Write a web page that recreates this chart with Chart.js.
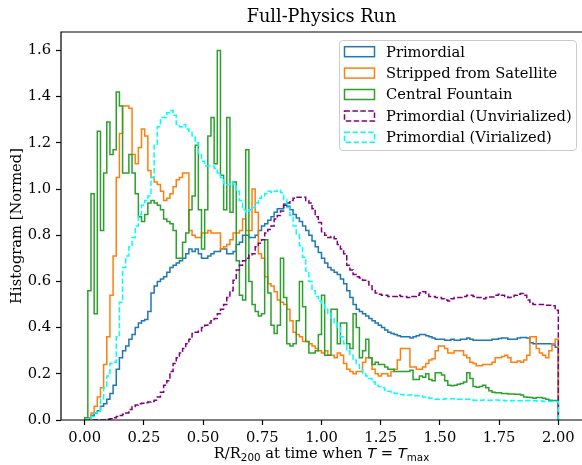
<!DOCTYPE html>
<html>
<head>
<meta charset="utf-8">
<script src="https://cdn.jsdelivr.net/npm/chart.js@4.4.0/dist/chart.umd.min.js"></script>
<style>
  html, body { margin: 0; padding: 0; background: #fff; overflow: hidden; }
  #wrap { width: 582px; height: 465px; }
</style>
</head>
<body>
<div id="wrap"><canvas id="histChart" width="582" height="465"></canvas></div>
<script>
// histogram bins: 150 bins between 0 and 2 (R/R200)
var binLo = 0, binHi = 2, nBins = 150;

var seriesLabels = ["Primordial", "Stripped from Satellite", "Central Fountain",
                    "Primordial (Unvirialized)", "Primordial (Virialized)"];

var xTicks = [0, 0.25, 0.5, 0.75, 1.0, 1.25, 1.5, 1.75, 2.0];
var yTicks = [0, 0.2, 0.4, 0.6, 0.8, 1.0, 1.2, 1.4, 1.6];

// bin heights, one per bin
var primordial = [
  0.0, 0.01, 0.02, 0.03, 0.04, 0.06, 0.07, 0.09, 0.115, 0.15,
  0.22, 0.27, 0.30, 0.32, 0.35, 0.37, 0.40, 0.42, 0.43, 0.435,
  0.47, 0.55, 0.58, 0.60, 0.61,
  0.62, 0.64, 0.66, 0.67, 0.68, 0.69, 0.70, 0.72, 0.74, 0.73,
  0.74, 0.72, 0.70, 0.70, 0.71, 0.72, 0.73, 0.73, 0.74, 0.74,
  0.72, 0.72, 0.73, 0.76, 0.77, 0.80, 0.80, 0.79, 0.79, 0.80,
  0.82, 0.84, 0.85, 0.865,
  0.88, 0.90, 0.915, 0.915, 0.935, 0.925, 0.91, 0.89, 0.875, 0.86,
  0.84, 0.82, 0.80, 0.775, 0.75, 0.725, 0.70,
  0.68, 0.66, 0.65, 0.64, 0.63, 0.61, 0.59, 0.56, 0.53, 0.50,
  0.48, 0.47, 0.46, 0.45, 0.44, 0.43, 0.42, 0.41, 0.40, 0.39,
  0.38, 0.375, 0.37, 0.365, 0.36, 0.36,
  0.36, 0.355, 0.36, 0.365, 0.37, 0.37, 0.365, 0.36, 0.355, 0.35,
  0.35, 0.35, 0.345, 0.345, 0.35, 0.345, 0.345, 0.35, 0.35, 0.355,
  0.35, 0.345, 0.345, 0.345, 0.345,
  0.345, 0.345, 0.35, 0.35, 0.353, 0.355, 0.355, 0.35, 0.35, 0.35,
  0.355, 0.357, 0.357, 0.355, 0.335, 0.33, 0.33, 0.33, 0.33, 0.33,
  0.33, 0.325, 0.315
];

var stripped = [
  0.0, 0.01, 0.03, 0.06, 0.10, 0.14, 0.24, 0.36, 0.54, 0.71,
  1.05, 1.24, 1.36, 1.36, 1.35, 1.15, 1.11, 1.18, 1.26, 1.23,
  1.08, 1.05, 1.03, 1.02, 0.99,
  0.95, 0.96, 0.98, 1.01, 1.04, 1.05, 1.07, 1.07, 0.82, 0.80,
  0.79, 0.79, 0.81, 0.81, 0.82, 0.81, 0.81, 0.81, 0.74, 0.75,
  0.76, 0.78, 0.81, 0.81, 0.82,
  0.87, 0.82, 0.82, 1.00, 0.90, 0.72, 0.70, 0.62, 0.59, 0.58,
  0.555, 0.52, 0.51, 0.50, 0.48, 0.43, 0.38, 0.37, 0.36, 0.34,
  0.34, 0.33, 0.32, 0.31, 0.30, 0.29,
  0.30, 0.28, 0.28, 0.27, 0.29, 0.28, 0.245, 0.22, 0.21, 0.20,
  0.21, 0.21, 0.25, 0.27, 0.27, 0.22, 0.20, 0.19, 0.20, 0.20,
  0.19, 0.21, 0.22, 0.26, 0.31,
  0.31, 0.31, 0.23, 0.23, 0.22, 0.22, 0.23, 0.245, 0.26, 0.265,
  0.30, 0.32, 0.32, 0.31, 0.29, 0.29, 0.30, 0.30, 0.30, 0.28,
  0.27, 0.25, 0.245, 0.235, 0.235, 0.24,
  0.24, 0.24, 0.25, 0.27, 0.27, 0.275, 0.28, 0.27, 0.25, 0.25,
  0.255, 0.25, 0.26, 0.28, 0.36, 0.36, 0.31, 0.29, 0.28, 0.27,
  0.30, 0.33, 0.35
];

var fountain = [
  0.01, 0.56, 0.98, 0.46, 1.25, 0.82, 1.07, 1.29, 1.15, 1.17,
  1.42, 1.36, 1.07, 1.07, 1.15, 1.07, 0.98, 0.88, 0.86, 0.89,
  0.94, 0.95, 0.94, 0.93, 0.91,
  0.87, 0.86, 0.85, 0.82, 0.70, 0.70, 0.77, 0.81, 0.91, 0.97,
  1.19, 0.91, 0.74, 0.91, 1.23, 1.31, 1.11, 1.60, 1.06, 0.91,
  1.31, 0.90, 1.03, 0.69, 0.54, 0.52, 1.17, 0.60, 0.50, 0.47,
  0.45, 0.46, 0.78, 0.55,
  0.41, 0.375, 0.41, 0.70, 0.53, 0.33, 0.32, 0.33, 0.43, 0.60,
  0.49, 0.34, 0.29, 0.29, 0.30, 0.37, 0.54,
  0.28, 0.28, 0.48, 0.48, 0.33, 0.42, 0.42, 0.33, 0.31, 0.46,
  0.40, 0.27, 0.30, 0.35, 0.27, 0.24, 0.25, 0.24, 0.24, 0.23,
  0.22, 0.22, 0.21, 0.21, 0.21, 0.21,
  0.21, 0.215, 0.175, 0.175, 0.19, 0.185, 0.20, 0.175, 0.17, 0.205,
  0.205, 0.195, 0.17, 0.15, 0.148, 0.15, 0.155, 0.158, 0.165, 0.205,
  0.18, 0.145, 0.142, 0.145, 0.15,
  0.14, 0.127, 0.12, 0.118, 0.118, 0.115, 0.115, 0.113, 0.113, 0.112,
  0.112, 0.108, 0.10, 0.098, 0.097, 0.094, 0.097, 0.097, 0.094, 0.09,
  0.086, 0.084, 0.084
];

var primUnvir = [
  0, 0, 0, 0, 0, 0, 0, 0.003, 0.005, 0.01,
  0.015, 0.02, 0.025, 0.03, 0.045, 0.058, 0.065, 0.07, 0.072, 0.075,
  0.078, 0.08, 0.086, 0.10, 0.12,
  0.15, 0.17, 0.21, 0.245, 0.27, 0.29, 0.31, 0.33, 0.35, 0.375,
  0.38, 0.385, 0.40, 0.41, 0.42, 0.43, 0.44, 0.46, 0.48, 0.50,
  0.53, 0.56, 0.605, 0.65, 0.67, 0.69,
  0.70, 0.715, 0.72, 0.75, 0.765, 0.78, 0.81, 0.825,
  0.84, 0.87, 0.885, 0.905, 0.93, 0.94, 0.95, 0.96, 0.965, 0.965,
  0.965, 0.95, 0.94, 0.915, 0.88, 0.855, 0.815,
  0.80, 0.79, 0.795, 0.785, 0.76, 0.74, 0.72, 0.67, 0.65, 0.63,
  0.62, 0.615, 0.605, 0.60, 0.585, 0.565, 0.55, 0.545, 0.54, 0.54,
  0.535, 0.535, 0.535, 0.54, 0.535, 0.535,
  0.53, 0.535, 0.535, 0.54, 0.55, 0.555, 0.545, 0.535, 0.535, 0.53,
  0.53, 0.525, 0.52, 0.515, 0.525, 0.53, 0.53, 0.53, 0.535, 0.54,
  0.54, 0.535, 0.53, 0.53, 0.525,
  0.53, 0.533, 0.533, 0.54, 0.545, 0.54, 0.535, 0.53, 0.535, 0.54,
  0.545, 0.548, 0.54, 0.52, 0.505, 0.50, 0.50, 0.50, 0.50, 0.497,
  0.497, 0.495, 0.475
];

var primVir = [
  0, 0.005, 0.015, 0.03, 0.04, 0.09, 0.14, 0.19, 0.245, 0.25,
  0.36, 0.51, 0.66, 0.71, 0.75, 0.79, 0.84, 0.89, 0.93, 0.95,
  0.97, 1.05, 1.19, 1.27, 1.31,
  1.31, 1.33, 1.34, 1.32, 1.28, 1.27, 1.28, 1.26, 1.25, 1.23,
  1.20, 1.15, 1.12, 1.10, 1.10, 1.10, 1.09, 1.07, 1.05, 1.02,
  1.02, 1.03, 1.02, 0.99, 0.95, 0.91, 0.90, 0.91, 0.92, 0.94,
  0.96, 0.97, 0.98, 0.99,
  0.985, 0.99, 0.995, 0.985, 0.955, 0.92, 0.885, 0.84, 0.805, 0.755,
  0.705, 0.645, 0.60, 0.56, 0.535, 0.515, 0.50,
  0.48, 0.46, 0.44, 0.42, 0.40, 0.36, 0.33, 0.30, 0.28, 0.26,
  0.24, 0.22, 0.20, 0.19, 0.18, 0.165, 0.15, 0.145, 0.14, 0.13,
  0.125, 0.12, 0.115, 0.115, 0.11, 0.108,
  0.108, 0.108, 0.105, 0.105, 0.105, 0.10, 0.10, 0.094, 0.09, 0.09,
  0.09, 0.09, 0.092, 0.092, 0.092, 0.092, 0.09, 0.09, 0.09, 0.09,
  0.088, 0.086, 0.086, 0.086, 0.087,
  0.086, 0.086, 0.087, 0.087, 0.086, 0.086, 0.083, 0.083, 0.084, 0.084,
  0.083, 0.083, 0.084, 0.084, 0.083, 0.083, 0.082, 0.082, 0.08, 0.08,
  0.08, 0.08, 0.08
];

var colors = ["#1f77b4", "#ff7f0e", "#2ca02c", "purple", "cyan"];
var dashed = [false, false, false, true, true];

// outline of a step histogram: up from 0 at the left edge, back to 0 at the right
function stepPoints(vals) {
  var w = (binHi - binLo) / nBins;
  var pts = [{ x: binLo, y: 0 }];
  for (var i = 0; i < vals.length; i++) {
    pts.push({ x: binLo + i * w, y: vals[i] });
  }
  pts.push({ x: binHi, y: 0 });
  return pts;
}

var allSeries = [primordial, stripped, fountain, primUnvir, primVir];
var datasets = allSeries.map(function (vals, k) {
  return {
    label: seriesLabels[k],
    data: stepPoints(vals),
    stepped: true,
    borderColor: colors[k],
    borderWidth: 1.5,
    borderDash: dashed[k] ? [5.5, 2.4] : [],
    pointRadius: 0,
    fill: false,
    order: 5 - k
  };
});

var serif = "'DejaVu Serif', serif";
var sans = "'DejaVu Sans', sans-serif";

var decorations = {
  id: 'decorations',
  afterDatasetsDraw: function (chart) {
    var ctx = chart.ctx, a = chart.chartArea;
    ctx.save();
    // spines (the right one falls off the picture in the original)
    ctx.strokeStyle = '#000';
    ctx.lineWidth = 1.2;
    ctx.beginPath();
    ctx.moveTo(a.right + 2, a.top);
    ctx.lineTo(a.left, a.top);
    ctx.lineTo(a.left, a.bottom);
    ctx.lineTo(a.right + 2, a.bottom);
    ctx.stroke();

    // legend
    var lx = 339.5, ly = 40.5, lw = 237, lh = 110, r = 3.5;
    ctx.beginPath();
    ctx.moveTo(lx + r, ly);
    ctx.arcTo(lx + lw, ly, lx + lw, ly + lh, r);
    ctx.arcTo(lx + lw, ly + lh, lx, ly + lh, r);
    ctx.arcTo(lx, ly + lh, lx, ly, r);
    ctx.arcTo(lx, ly, lx + lw, ly, r);
    ctx.closePath();
    ctx.fillStyle = 'rgba(255,255,255,0.8)';
    ctx.fill();
    ctx.strokeStyle = '#cccccc';
    ctx.lineWidth = 1;
    ctx.stroke();

    ctx.font = '14.7px ' + serif;
    ctx.textBaseline = 'middle';
    ctx.textAlign = 'left';
    for (var k = 0; k < seriesLabels.length; k++) {
      var cy = 51.7 + k * 21.4;
      ctx.strokeStyle = colors[k];
      ctx.lineWidth = 1.5;
      ctx.setLineDash(dashed[k] ? [5.5, 2.4] : []);
      ctx.strokeRect(344.5, cy - 5, 30, 10);
      ctx.setLineDash([]);
      ctx.fillStyle = '#000';
      ctx.fillText(seriesLabels[k], 386, cy + 1);
    }
    ctx.restore();
  },
  afterDraw: function (chart) {
    var ctx = chart.ctx, a = chart.chartArea;
    ctx.save();
    ctx.fillStyle = '#000';
    // title
    ctx.font = '17.7px ' + serif;
    ctx.textAlign = 'center';
    ctx.textBaseline = 'middle';
    ctx.fillText('Full-Physics Run', (a.left + a.right) / 2, 17);

    // y label
    ctx.save();
    ctx.translate(17, (a.top + a.bottom) / 2);
    ctx.rotate(-Math.PI / 2);
    ctx.font = '14.7px ' + serif;
    ctx.fillText('Histogram [Normed]', 0, 0);
    ctx.restore();

    // x label, drawn in pieces for the sub/italic parts
    var parts = [
      { t: 'R/R', f: '14.7px ' + serif, dy: 0 },
      { t: '200', f: '10.3px ' + sans, dy: 3 },
      { t: ' at time when ', f: '14.7px ' + serif, dy: 0 },
      { t: 'T', f: 'italic 14.7px ' + sans, dy: 0 },
      { t: ' = ', f: '14.7px ' + sans, dy: 0 },
      { t: 'T', f: 'italic 14.7px ' + sans, dy: 0 },
      { t: 'max', f: '10.3px ' + sans, dy: 3 }
    ];
    var total = 0;
    parts.forEach(function (p) { ctx.font = p.f; p.w = ctx.measureText(p.t).width; total += p.w; });
    var x = (a.left + a.right) / 2 - total / 2;
    ctx.textAlign = 'left';
    ctx.textBaseline = 'alphabetic';
    parts.forEach(function (p) {
      ctx.font = p.f;
      ctx.fillText(p.t, x, 458 + p.dy);
      x += p.w;
    });
    ctx.restore();
  }
};

new Chart(document.getElementById('histChart').getContext('2d'), {
  type: 'line',
  data: { datasets: datasets },
  options: {
    responsive: false,
    animation: false,
    events: [],
    layout: { padding: { top: 32, left: 0, right: 0, bottom: 0 } },
    plugins: {
      legend: { display: false },
      title: { display: false },
      tooltip: { enabled: false }
    },
    scales: {
      x: {
        type: 'linear',
        min: -0.1,
        max: 2.1,
        afterFit: function (s) { s.height = 45; },
        afterBuildTicks: function (s) { s.ticks = xTicks.map(function (v) { return { value: v }; }); },
        border: { display: false },
        grid: { display: true, drawOnChartArea: false, drawTicks: true, tickLength: 5, tickColor: '#000', tickWidth: 1.2 },
        ticks: {
          color: '#000', padding: 4, maxRotation: 0, autoSkip: false,
          font: { family: serif, size: 14.7 },
          callback: function (v) { return Number(v).toFixed(2); }
        }
      },
      y: {
        min: 0,
        max: 1.68,
        afterFit: function (s) { s.width = 61; },
        afterBuildTicks: function (s) { s.ticks = yTicks.map(function (v) { return { value: v }; }); },
        border: { display: false },
        grid: { display: true, drawOnChartArea: false, drawTicks: true, tickLength: 5, tickColor: '#000', tickWidth: 1.2 },
        ticks: {
          color: '#000', padding: 5,
          font: { family: serif, size: 14.7 },
          callback: function (v) { return Number(v).toFixed(1); }
        }
      }
    }
  },
  plugins: [decorations]
});
</script>
</body>
</html>
